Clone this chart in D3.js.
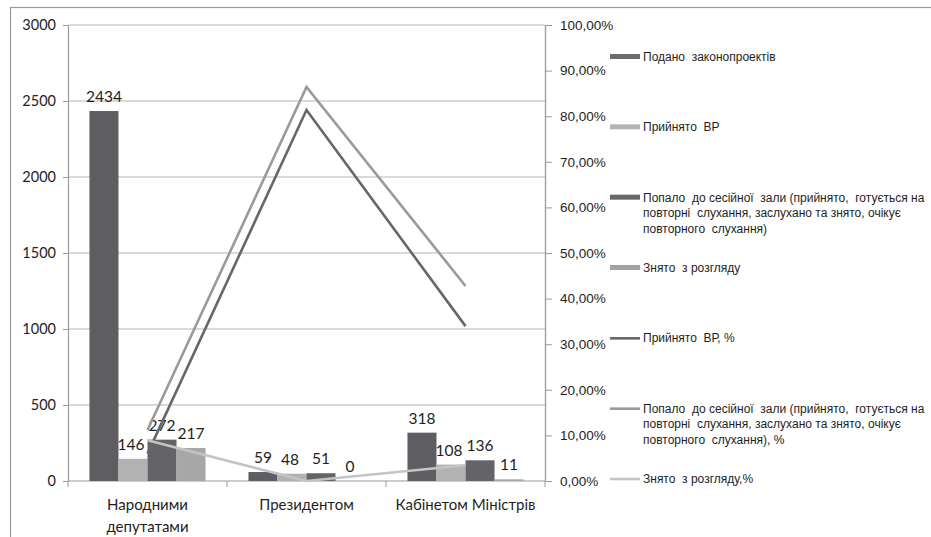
<!DOCTYPE html>
<html><head><meta charset="utf-8">
<script src="https://cdn.jsdelivr.net/npm/d3@7"></script>
<style>
html,body{margin:0;padding:0;background:#fff;}
svg{display:block;}
</style></head>
<body>
<svg id="chart" width="931" height="537"></svg>
<script>
// ---- data ----
const categories = ["Народними депутатами", "Президентом", "Кабінетом Міністрів"];
const categoryLines = [["Народними", "депутатами"], ["Президентом"], ["Кабінетом Міністрів"]];
const barSeries = ["Подано законопроектів", "Прийнято ВР", "Попало до сесійної зали", "Знято з розгляду"];
const submitted = [2434, 59, 318];
const adopted = [146, 48, 108];
const toHall = [272, 51, 136];
const withdrawn = [217, 0, 11];
const adoptedPct = [6.0, 81.36, 33.96];
const toHallPct = [11.17, 86.44, 42.77];
const withdrawnPct = [8.92, 0, 3.46];
const leftTicks = [0, 500, 1000, 1500, 2000, 2500, 3000];
const rightTicks = [0, 10, 20, 30, 40, 50, 60, 70, 80, 90, 100];
const legendItems = [
  {type: "bar", lines: ["Подано  законопроектів"]},
  {type: "bar", lines: ["Прийнято  ВР"]},
  {type: "bar", lines: ["Попало  до сесійної  зали (прийнято,  готується на", "повторні  слухання, заслухано та знято, очікує", "повторного  слухання)"]},
  {type: "bar", lines: ["Знято  з розгляду"]},
  {type: "line", lines: ["Прийнято  ВР, %"]},
  {type: "line", lines: ["Попало  до сесійної  зали (прийнято,  готується на", "повторні  слухання, заслухано та знято, очікує", "повторного  слухання), %"]},
  {type: "line", lines: ["Знято  з розгляду,%"]}
];

// ---- styles ----
const barColors = ["#5e5e62", "#b2b2b2", "#646468", "#a7a7a7"];
const legendBarColors = ["#6c6c70", "#b4b4b4", "#69696d", "#a2a2a2"];
const lineColors = ["#67676b", "#9a9a9a", "#c4c4c4"];

const svg = d3.select("#chart");
const L = 68, R = 545, T = 25, B = 481;

// outer border
svg.append("rect").attr("x", 10.5).attr("y", 7.5).attr("width", 940).attr("height", 560)
  .attr("fill", "none").attr("stroke", "#9a9a9a").attr("stroke-width", 1.2);

const x0 = d3.scaleBand().domain(categories).range([L, R]).padding(0);
const bw = x0.bandwidth();
const x1 = d3.scaleBand().domain(barSeries).range([bw * 0.135, bw * 0.865]).padding(0);
const yL = d3.scaleLinear().domain([0, 3000]).range([B, T]);
const yR = d3.scaleLinear().domain([0, 100]).range([B, T]);

// gridlines
svg.append("g").selectAll("line").data(leftTicks.filter(d => d > 0)).join("line")
  .attr("x1", L).attr("x2", R).attr("y1", d => yL(d)).attr("y2", d => yL(d))
  .attr("stroke", "#b5b5b5").attr("stroke-width", 1.2);

// left axis
const gL = svg.append("g").attr("transform", `translate(${L},0)`)
  .call(d3.axisLeft(yL).tickValues(leftTicks).tickSize(5).tickPadding(7).tickSizeOuter(0)
    .tickFormat(d => String(d)));
gL.select(".domain").attr("stroke", "#9a9a9a").attr("stroke-width", 1.2);
gL.selectAll(".tick line").attr("stroke", "#9a9a9a");
gL.selectAll("text").attr("font-family", "Lato, 'Open Sans', sans-serif").attr("font-size", 14.5).attr("fill", "#1e1e1e");

// right axis
const gR = svg.append("g").attr("transform", `translate(${R},0)`)
  .call(d3.axisRight(yR).tickValues(rightTicks).tickSize(7).tickPadding(8).tickSizeOuter(0)
    .tickFormat(d => d.toFixed(2).replace(".", ",") + "%"));
gR.select(".domain").attr("stroke", "#a5a5a5").attr("stroke-width", 1.5);
gR.selectAll(".tick line").attr("stroke", "#9a9a9a");
gR.selectAll("text").attr("font-family", "'Liberation Sans', Arial, sans-serif").attr("font-size", 13.5).attr("fill", "#1e1e1e");

// bottom axis
svg.append("line").attr("x1", L).attr("x2", R).attr("y1", B).attr("y2", B)
  .attr("stroke", "#9a9a9a").attr("stroke-width", 1.2);
const bounds = categories.map(c => x0(c)).concat([x0(categories[categories.length - 1]) + bw]);
svg.append("g").selectAll("line").data(bounds).join("line")
  .attr("x1", d => d).attr("x2", d => d).attr("y1", B).attr("y2", B + 6)
  .attr("stroke", "#9a9a9a");

// category labels
categories.forEach((c, i) => {
  const t = svg.append("text").attr("x", x0(c) + bw / 2).attr("y", B + 29)
    .attr("text-anchor", "middle").attr("font-family", "Lato, 'Open Sans', sans-serif")
    .attr("font-size", 15).attr("fill", "#1e1e1e");
  categoryLines[i].forEach((ln, j) => t.append("tspan").attr("x", x0(c) + bw / 2).attr("dy", j ? 22 : 0).text(ln));
});

// bars
const barValues = [submitted, adopted, toHall, withdrawn];
const barData = [];
categories.forEach((c, i) => barSeries.forEach((s, k) => barData.push({c, s, k, v: barValues[k][i]})));
svg.append("g").selectAll("rect").data(barData).join("rect")
  .attr("x", d => x0(d.c) + x1(d.s)).attr("width", x1.bandwidth())
  .attr("y", d => yL(d.v)).attr("height", d => B - yL(d.v))
  .attr("fill", d => barColors[d.k]);
svg.append("g").selectAll("text").data(barData).join("text")
  .attr("x", d => x0(d.c) + x1(d.s) + x1.bandwidth() / 2 + (d.k === 1 ? -2 : 0))
  .attr("y", d => yL(d.v) - 9)
  .attr("text-anchor", "middle").attr("font-family", "Lato, 'Open Sans', sans-serif")
  .attr("font-size", 15.5).attr("fill", "#1e1e1e").text(d => d.v);

// lines
const lineValues = [adoptedPct, toHallPct, withdrawnPct];
const line = d3.line().x((d, i) => x0(categories[i]) + bw / 2).y(d => yR(d));
svg.append("g").selectAll("path").data(lineValues).join("path")
  .attr("d", d => line(d)).attr("fill", "none")
  .attr("stroke", (d, i) => lineColors[i]).attr("stroke-width", 2.6);

// legend
const ly = d3.scaleLinear().domain([0, legendItems.length - 1]).range([57, 479]);
let barIdx = 0, lineIdx = 0;
legendItems.forEach((it, i) => {
  const y = ly(i);
  if (it.type === "bar") {
    svg.append("rect").attr("x", 610).attr("y", y - 3).attr("width", 30).attr("height", 5)
      .attr("fill", legendBarColors[barIdx++]);
  } else {
    svg.append("line").attr("x1", 610).attr("x2", 640).attr("y1", y).attr("y2", y)
      .attr("stroke", lineColors[lineIdx++]).attr("stroke-width", 2.6);
  }
  const t = svg.append("text").attr("x", 643).attr("y", y + 4)
    .attr("font-family", "'Liberation Sans', Arial, sans-serif").attr("font-size", 12)
    .attr("fill", "#1e1e1e").style("white-space", "pre");
  it.lines.forEach((ln, j) => t.append("tspan").attr("x", 643).attr("dy", j ? 15.5 : 0).text(ln));
});
</script>
</body></html>
